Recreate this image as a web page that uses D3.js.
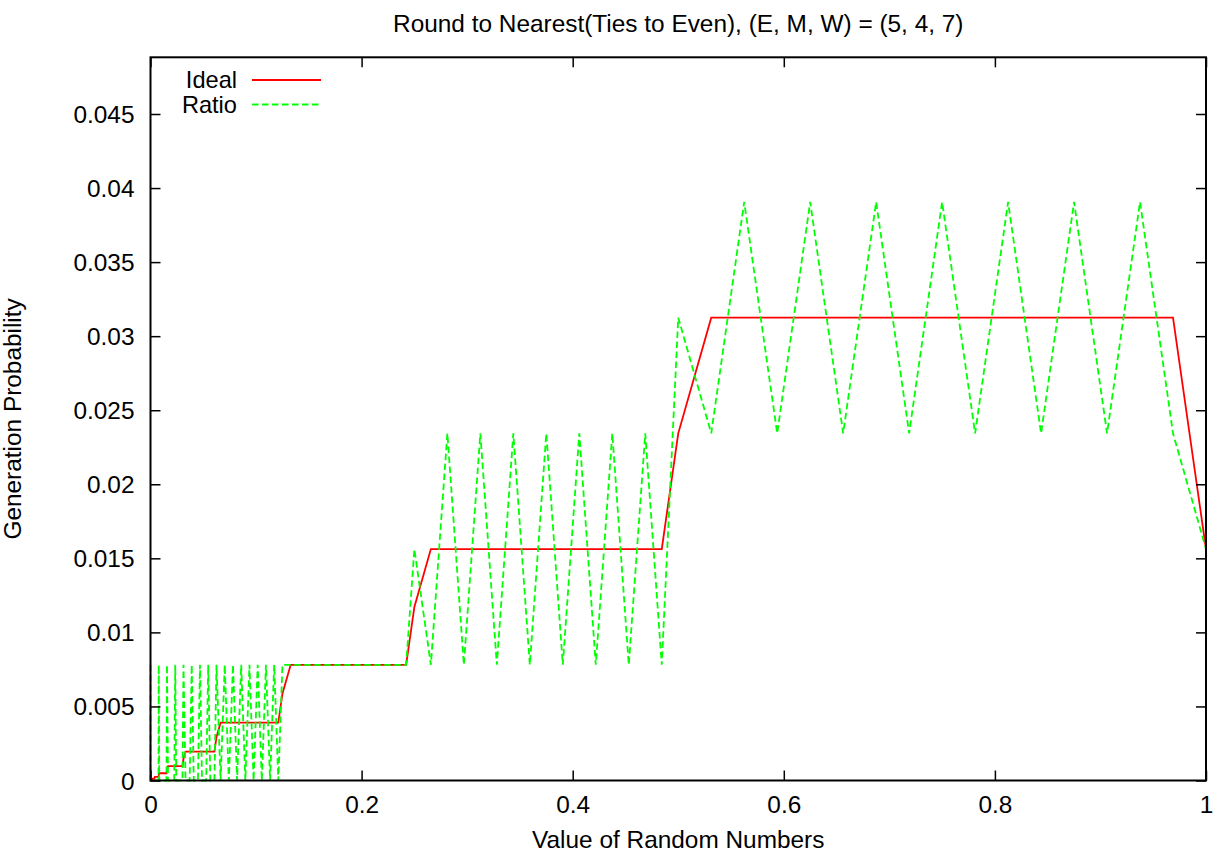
<!DOCTYPE html>
<html>
<head>
<meta charset="utf-8">
<script src="https://cdn.jsdelivr.net/npm/d3@7"></script>
<style>
  body { margin: 0; background: #fff; }
  text { font-family: "Liberation Sans", Arial, Helvetica, sans-serif; fill: #000; }
</style>
</head>
<body>
<svg id="chart" width="1220" height="856"></svg>
<script>
// ideal probability of each float value (vertices of the step line)
const idealX = [0, 0.001953125, 0.0020752, 0.00378418, 0.00390625, 0.00415039, 0.00756836,
    0.0078125, 0.00830078, 0.01513672, 0.015625, 0.01660156, 0.03027344,
    0.03125, 0.03320313, 0.06054688, 0.0625, 0.06640625, 0.12109375,
    0.125, 0.1328125, 0.2421875, 0.25, 0.265625, 0.484375,
    0.5, 0.53125, 0.96875, 1];
const idealY = [0, 0.00009155, 0.00012207, 0.00012207, 0.00018311, 0.00024414, 0.00024414,
    0.00036621, 0.00048828, 0.00048828, 0.00073242, 0.00097656, 0.00097656,
    0.00146484, 0.00195313, 0.00195313, 0.00292969, 0.00390625, 0.00390625,
    0.00585938, 0.0078125, 0.0078125, 0.01171875, 0.015625, 0.015625,
    0.0234375, 0.03125, 0.03125, 0.015625];

// measured ratio of generated values
const ratioX = [0, 0.0000038, 0.0075684, 0.0078125, 0.0083008, 0.0151367, 0.015625, 0.0166016,
    0.0224609, 0.0234375, 0.0244141, 0.0302734, 0.03125, 0.0332031, 0.0371094, 0.0390625,
    0.0410156, 0.0449219, 0.046875, 0.0488281, 0.0527344, 0.0546875, 0.0566406, 0.0605469,
    0.0625, 0.0664063, 0.0703125, 0.0742188, 0.078125, 0.0820313, 0.0859375, 0.0898438,
    0.09375, 0.0976563, 0.1015625, 0.1054688, 0.109375, 0.1132813, 0.1171875, 0.1210938,
    0.125, 0.2421875,
    0.25, 0.265625, 0.28125, 0.296875, 0.3125, 0.328125, 0.34375, 0.359375,
    0.375, 0.390625, 0.40625, 0.421875, 0.4375, 0.453125, 0.46875, 0.484375,
    0.5, 0.53125, 0.5625, 0.59375, 0.625, 0.65625, 0.6875, 0.71875,
    0.75, 0.78125, 0.8125, 0.84375, 0.875, 0.90625, 0.9375, 0.96875, 1];
const ratioY = [0.0078125, 0, 0, 0.0078125, 0, 0, 0.0078125, 0,
    0, 0.0078125, 0, 0, 0.0078125, 0, 0, 0.0078125,
    0, 0, 0.0078125, 0, 0, 0.0078125, 0, 0,
    0.0078125, 0, 0.0078125, 0, 0.0078125, 0, 0.0078125, 0,
    0.0078125, 0, 0.0078125, 0, 0.0078125, 0, 0.0078125, 0,
    0.0078125, 0.0078125,
    0.015625, 0.0078125, 0.0234375, 0.0078125, 0.0234375, 0.0078125, 0.0234375, 0.0078125,
    0.0234375, 0.0078125, 0.0234375, 0.0078125, 0.0234375, 0.0078125, 0.0234375, 0.0078125,
    0.03125, 0.0234375, 0.0390625, 0.0234375, 0.0390625, 0.0234375, 0.0390625, 0.0234375,
    0.0390625, 0.0234375, 0.0390625, 0.0234375, 0.0390625, 0.0234375, 0.0390625, 0.0234375, 0.015625];

const xTicks = [0, 0.2, 0.4, 0.6, 0.8, 1];
const xTickLabels = ['0', '0.2', '0.4', '0.6', '0.8', '1'];
const yTicks = [0, 0.005, 0.01, 0.015, 0.02, 0.025, 0.03, 0.035, 0.04, 0.045];
const yTickLabels = ['0', '0.005', '0.01', '0.015', '0.02', '0.025', '0.03', '0.035', '0.04', '0.045'];
const yMax = 0.048828125;

const seriesNames = ['Ideal', 'Ratio'];
const seriesColors = ['#ff0000', '#00ff00'];

const FONT = 24.4;
const pLeft = 150.5, pRight = 1206, pTop = 57.3, pBottom = 780.5;

const svg = d3.select('#chart');

const x = d3.scaleLinear().domain([0, 1]).range([pLeft, pRight]);
const y = d3.scaleLinear().domain([0, yMax]).range([pBottom, pTop]);

const line = d3.line()
    .x(d => x(d[0]))
    .y(d => y(d[1]));

const idealData = idealX.map((v, i) => [v, idealY[i]]);
const ratioData = ratioX.map((v, i) => [v, ratioY[i]]);

// series
svg.append('path')
    .datum(idealData)
    .attr('fill', 'none')
    .attr('stroke', seriesColors[0])
    .attr('stroke-width', 1.8)
    .attr('d', line);

svg.append('path')
    .datum(ratioData)
    .attr('fill', 'none')
    .attr('stroke', seriesColors[1])
    .attr('stroke-width', 1.8)
    .attr('stroke-dasharray', '6.5,3.5')
    .attr('d', line);

// axes, ticks point inward like gnuplot
const styleAxis = g => {
    g.select('.domain').remove();
    g.selectAll('.tick line').attr('stroke', '#000').attr('stroke-width', 1.5);
    g.selectAll('.tick text').style('font-size', FONT + 'px');
};

svg.append('g')
    .attr('transform', `translate(0,${pBottom})`)
    .call(d3.axisBottom(x).tickValues(xTicks).tickSize(-10)
        .tickFormat((d, i) => xTickLabels[i]))
    .call(styleAxis)
    .call(g => g.selectAll('.tick text').attr('y', 32.5).attr('dy', null));

svg.append('g')
    .attr('transform', `translate(0,${pTop})`)
    .call(d3.axisTop(x).tickValues(xTicks).tickSize(-10).tickFormat(''))
    .call(styleAxis);

svg.append('g')
    .attr('transform', `translate(${pLeft},0)`)
    .call(d3.axisLeft(y).tickValues(yTicks).tickSize(-10).tickPadding(16)
        .tickFormat((d, i) => yTickLabels[i]))
    .call(styleAxis)
    .call(g => g.selectAll('.tick text').attr('dy', '0.35em'));

svg.append('g')
    .attr('transform', `translate(${pRight},0)`)
    .call(d3.axisRight(y).tickValues(yTicks).tickSize(-10).tickFormat(''))
    .call(styleAxis);

svg.append('rect')
    .attr('x', pLeft).attr('y', pTop)
    .attr('width', pRight - pLeft).attr('height', pBottom - pTop)
    .attr('fill', 'none')
    .attr('stroke', '#000')
    .attr('stroke-width', 2);

// legend
const legend = svg.append('g');
seriesNames.forEach((name, i) => {
    const ly = 80 + i * 24.5;
    legend.append('text')
        .attr('x', 237).attr('y', ly + 8.3)
        .attr('text-anchor', 'end')
        .style('font-size', '23.6px')
        .text(name);
    legend.append('line')
        .attr('x1', 252).attr('x2', 321)
        .attr('y1', ly).attr('y2', ly)
        .attr('stroke', seriesColors[i])
        .attr('stroke-width', 1.8)
        .attr('stroke-dasharray', i === 1 ? '6.5,3.5' : null);
});

// titles
svg.append('text')
    .attr('x', (pLeft + pRight) / 2).attr('y', 31.7)
    .attr('text-anchor', 'middle')
    .style('font-size', FONT + 'px')
    .text('Round to Nearest(Ties to Even), (E, M, W) = (5, 4, 7)');

svg.append('text')
    .attr('x', (pLeft + pRight) / 2).attr('y', 848)
    .attr('text-anchor', 'middle')
    .style('font-size', FONT + 'px')
    .text('Value of Random Numbers');

svg.append('text')
    .attr('transform', `translate(20.7,${(pTop + pBottom) / 2}) rotate(-90)`)
    .attr('text-anchor', 'middle')
    .style('font-size', FONT + 'px')
    .text('Generation Probability');
</script>
</body>
</html>
